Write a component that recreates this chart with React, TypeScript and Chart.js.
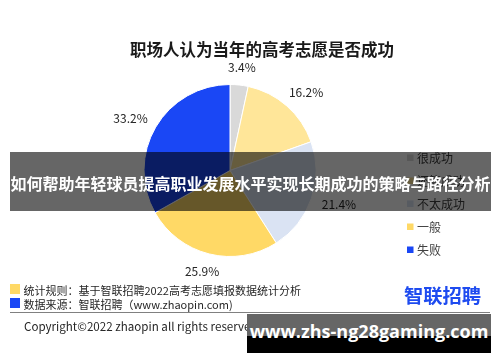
import React, { useEffect, useRef } from "react";
import { Chart, registerables } from "chart.js";
Chart.register(...registerables);

const categories = ["很成功", "还算成功", "不太成功", "一般", "失败"];
const values = [3.4, 16.2, 21.4, 25.9, 33.2];
const valueLabels = ["3.4%", "16.2%", "21.4%", "25.9%", "33.2%"];
const colors = ["#d9d9d9", "#ffe699", "#dae3f3", "#ffd966", "#1a47f5"];
const titleText = "职场人认为当年的高考志愿是否成功";
const bannerText = "如何帮助年轻球员提高职业发展水平实现长期成功的策略与路径分析";
const footnotes = [
  "统计规则：基于智联招聘2022高考志愿填报数据统计分析",
  "数据来源：智联招聘（www.zhaopin.com)",
];
const footnoteColors = ["#ffd966", "#1a47f5"];
const copyrightText = "Copyright©2022 zhaopin all rights reserved";
const logoText = "智联招聘";
const watermarkText = "www.zhs-ng28gaming.com";

const CJK = "'Noto Sans CJK SC', 'Noto Sans', sans-serif";

const overlayPlugin = {
  id: "overlayText",
  afterDraw(chart: any) {
    const ctx = chart.ctx as CanvasRenderingContext2D;
    ctx.save();
    // title
    ctx.fillStyle = "#1a1a1a";
    ctx.font = `bold 16.5px ${CJK}`;
    ctx.textAlign = "center";
    ctx.textBaseline = "middle";
    ctx.fillText(titleText, 262, 50);

    // value labels outside the arcs
    const meta = chart.getDatasetMeta(0);
    ctx.font = `12px ${CJK}`;
    ctx.fillStyle = "#262626";
    meta.data.forEach((arc: any, i: number) => {
      const p = arc.getProps(["x", "y", "startAngle", "endAngle", "outerRadius"], true);
      const mid = (p.startAngle + p.endAngle) / 2;
      const r = p.outerRadius + 12;
      const cosA = Math.cos(mid);
      const sinA = Math.sin(mid);
      const px = p.x + r * cosA;
      const py = p.y + r * sinA;
      const w = ctx.measureText(valueLabels[i]).width;
      const h = 12;
      ctx.fillText(valueLabels[i], px + (w / 2) * cosA, py + (h / 2) * sinA);
    });

    // legend
    ctx.textAlign = "left";
    ctx.font = `12px ${CJK}`;
    categories.forEach((c, i) => {
      const cy = 157.5 + i * 23;
      ctx.fillStyle = colors[i];
      ctx.fillRect(407, cy - 3, 6.5, 6.5);
      ctx.fillStyle = "#404040";
      ctx.fillText(c, 417, cy + 0.5);
    });
    ctx.restore();
  },
};

export default function App() {
  const ref = useRef<HTMLCanvasElement | null>(null);
  useEffect(() => {
    if (!ref.current) return;
    const chart = new Chart(ref.current, {
      type: "pie",
      data: {
        labels: categories,
        datasets: [
          {
            data: values,
            backgroundColor: colors,
            borderColor: "#ffffff",
            borderWidth: 1,
          },
        ],
      },
      options: {
        animation: false,
        responsive: false,
        devicePixelRatio: 1,
        layout: { padding: { left: 143.5, right: 183.5, top: 84, bottom: 105 } },
        plugins: {
          legend: { display: false },
          tooltip: { enabled: false },
          title: { display: false },
        },
      },
      plugins: [overlayPlugin],
    });
    return () => chart.destroy();
  }, []);

  return (
    <div style={{ position: "absolute", left: 0, top: 0, width: 500, height: 362, background: "#fff", overflow: "hidden" }}>
      <canvas ref={ref} width={500} height={362} style={{ position: "absolute", left: 0, top: 0 }} />
      {footnotes.map((t, i) => (
        <React.Fragment key={i}>
          <div style={{ position: "absolute", left: 10, top: 284 + i * 14, width: 10, height: 10, background: footnoteColors[i] }} />
          <div style={{ position: "absolute", left: 23.5, top: 282 + i * 14, height: 16, lineHeight: "16px", fontSize: 11, fontFamily: CJK, color: "#262626", whiteSpace: "nowrap" }}>{t}</div>
        </React.Fragment>
      ))}
      <div style={{ position: "absolute", left: 404, top: 283, height: 24, lineHeight: "24px", fontSize: 19.3, fontWeight: 700, fontFamily: CJK, color: "#1e4bf0", whiteSpace: "nowrap" }}>{logoText}</div>
      <div style={{ position: "absolute", left: 10, top: 312, width: 480, height: 1, background: "#808080" }} />
      <div style={{ position: "absolute", left: 24, top: 318, height: 16, lineHeight: "16px", fontSize: 11.6, fontFamily: CJK, color: "#262626", whiteSpace: "nowrap" }}>{copyrightText}</div>
      <div style={{ position: "absolute", left: 10, top: 152, width: 481, height: 59, background: "rgba(0,0,0,0.6)", color: "#fff", fontFamily: CJK, fontWeight: 700, fontSize: 16, display: "flex", alignItems: "center", justifyContent: "center", whiteSpace: "nowrap", paddingTop: 2, boxSizing: "border-box" }}>{bannerText}</div>
      <div style={{ position: "absolute", left: 247, top: 314, width: 244, height: 39, background: "linear-gradient(#666666 0px, #666666 22px, #000000 22px, #000000 39px)", color: "#fff", fontFamily: "'Open Sans', sans-serif", fontWeight: 700, fontSize: 18, display: "flex", alignItems: "center", justifyContent: "center", whiteSpace: "nowrap", paddingBottom: 6, boxSizing: "border-box" }}>{watermarkText}</div>
    </div>
  );
}
